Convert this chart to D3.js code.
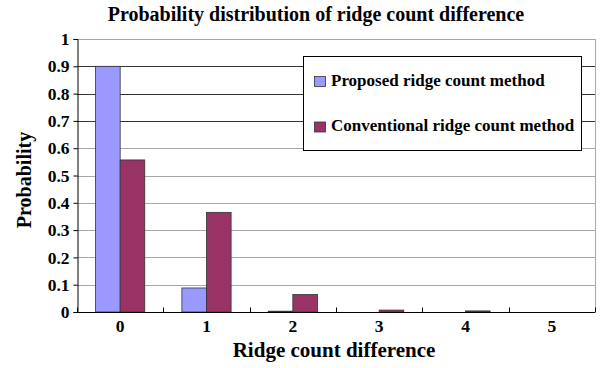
<!DOCTYPE html>
<html>
<head>
<meta charset="utf-8">
<script src="https://d3js.org/d3.v7.min.js"></script>
<style>
body{margin:0;background:#fff;}
</style>
</head>
<body>
<script>
// data
var categories=["0","1","2","3","4","5"];
var seriesNames=["Proposed ridge count method","Conventional ridge count method"];
var proposed=[0.9,0.088,0.003,0,0,0];
var conventional=[0.557,0.365,0.064,0.007,0.004,0];
var yTicks=[0,0.1,0.2,0.3,0.4,0.5,0.6,0.7,0.8,0.9,1];
var colors=["#9999ff","#993366"];
var FONT="'Liberation Serif','Times New Roman',Times,serif";

var W=607,H=368;
var margin={top:39,right:12,bottom:56,left:77};
var width=W-margin.left-margin.right, height=H-margin.top-margin.bottom;

var svg=d3.select("body").append("svg").attr("width",W).attr("height",H)
 .style("font-family",FONT).style("font-weight","bold");
var g=svg.append("g").attr("transform","translate("+margin.left+","+margin.top+")");

var x=d3.scaleBand().domain(categories).range([0,width]);
var xs=d3.scaleBand().domain(seriesNames).range([x.bandwidth()*0.215,x.bandwidth()*0.785]);
var y=d3.scaleLinear().domain([0,1]).range([height,0]);

// gridlines
g.append("g").selectAll("line").data(yTicks.slice(1)).enter().append("line")
 .attr("x1",0).attr("x2",width)
 .attr("y1",d=>Math.round(y(d))+0.5).attr("y2",d=>Math.round(y(d))+0.5)
 .attr("stroke",d=>(d>=0.7&&d<=0.9)?"#333":"#a8a8a8").attr("stroke-width",1);
// right border
g.append("line").attr("x1",width+0.5).attr("x2",width+0.5).attr("y1",0).attr("y2",height)
 .attr("stroke","#a8a8a8");

// bars
var rows=categories.map((c,i)=>({cat:c,vals:[proposed[i],conventional[i]]}));
var grp=g.selectAll(".grp").data(rows).enter().append("g")
 .attr("transform",d=>"translate("+x(d.cat)+",0)");
grp.selectAll("rect").data(d=>d.vals.map((v,j)=>({v:v,j:j}))).enter().append("rect")
 .filter(d=>d.v>0)
 .attr("x",d=>xs(seriesNames[d.j]))
 .attr("width",xs.bandwidth())
 .attr("y",d=>y(d.v))
 .attr("height",d=>height-y(d.v))
 .attr("fill",d=>colors[d.j])
 .attr("stroke","#333").attr("stroke-width",0.8);

// y axis
var yAxis=d3.axisLeft(y).tickValues(yTicks).tickSize(4).tickFormat(d=>d3.format("~g")(d));
var ya=g.append("g").attr("transform","translate(0.5,0)").call(yAxis)
 .attr("font-family",FONT).attr("font-size",17);
ya.select(".domain").attr("stroke","#000");
ya.selectAll(".tick line").attr("stroke","#000");
ya.selectAll("text").attr("x",-8).style("font-size","17.5px");

// x axis
var xa=g.append("g").attr("transform","translate(0,"+(height+0.5)+")");
xa.append("line").attr("x1",0).attr("x2",width).attr("stroke","#000");
xa.selectAll(".tk").data(d3.range(categories.length+1)).enter().append("line")
 .attr("x1",i=>Math.round(i*x.step())+0.5).attr("x2",i=>Math.round(i*x.step())+0.5)
 .attr("y1",0).attr("y2",-5).attr("stroke","#000");
xa.selectAll(".lb").data(categories).enter().append("text")
 .attr("x",d=>x(d)+x.bandwidth()/2).attr("y",19.5).attr("text-anchor","middle")
 .style("font-size","17.5px").text(d=>d);

// titles
svg.append("text").attr("x",316).attr("y",21).attr("text-anchor","middle")
 .style("font-size","20px").text("Probability distribution of ridge count difference");
svg.append("text").attr("x",334).attr("y",357).attr("text-anchor","middle")
 .style("font-size","21px").text("Ridge count difference");
svg.append("text").attr("transform","translate(31,180) rotate(-90)")
 .attr("text-anchor","middle").style("font-size","20px").text("Probability");

// legend
var lg=svg.append("g").attr("transform","translate(303.5,56.5)");
lg.append("rect").attr("width",278).attr("height",94).attr("fill","#fff").attr("stroke","#000");
var items=lg.selectAll(".it").data(seriesNames).enter().append("g")
 .attr("transform",(d,i)=>"translate(11,"+(20+i*45.5)+")");
items.append("rect").attr("width",11).attr("height",10).attr("fill",(d,i)=>colors[i])
 .attr("stroke","#333").attr("stroke-width",0.8);
items.append("text").attr("x",16.5).attr("y",9).style("font-size","17px").text(d=>d);
</script>
</body>
</html>
